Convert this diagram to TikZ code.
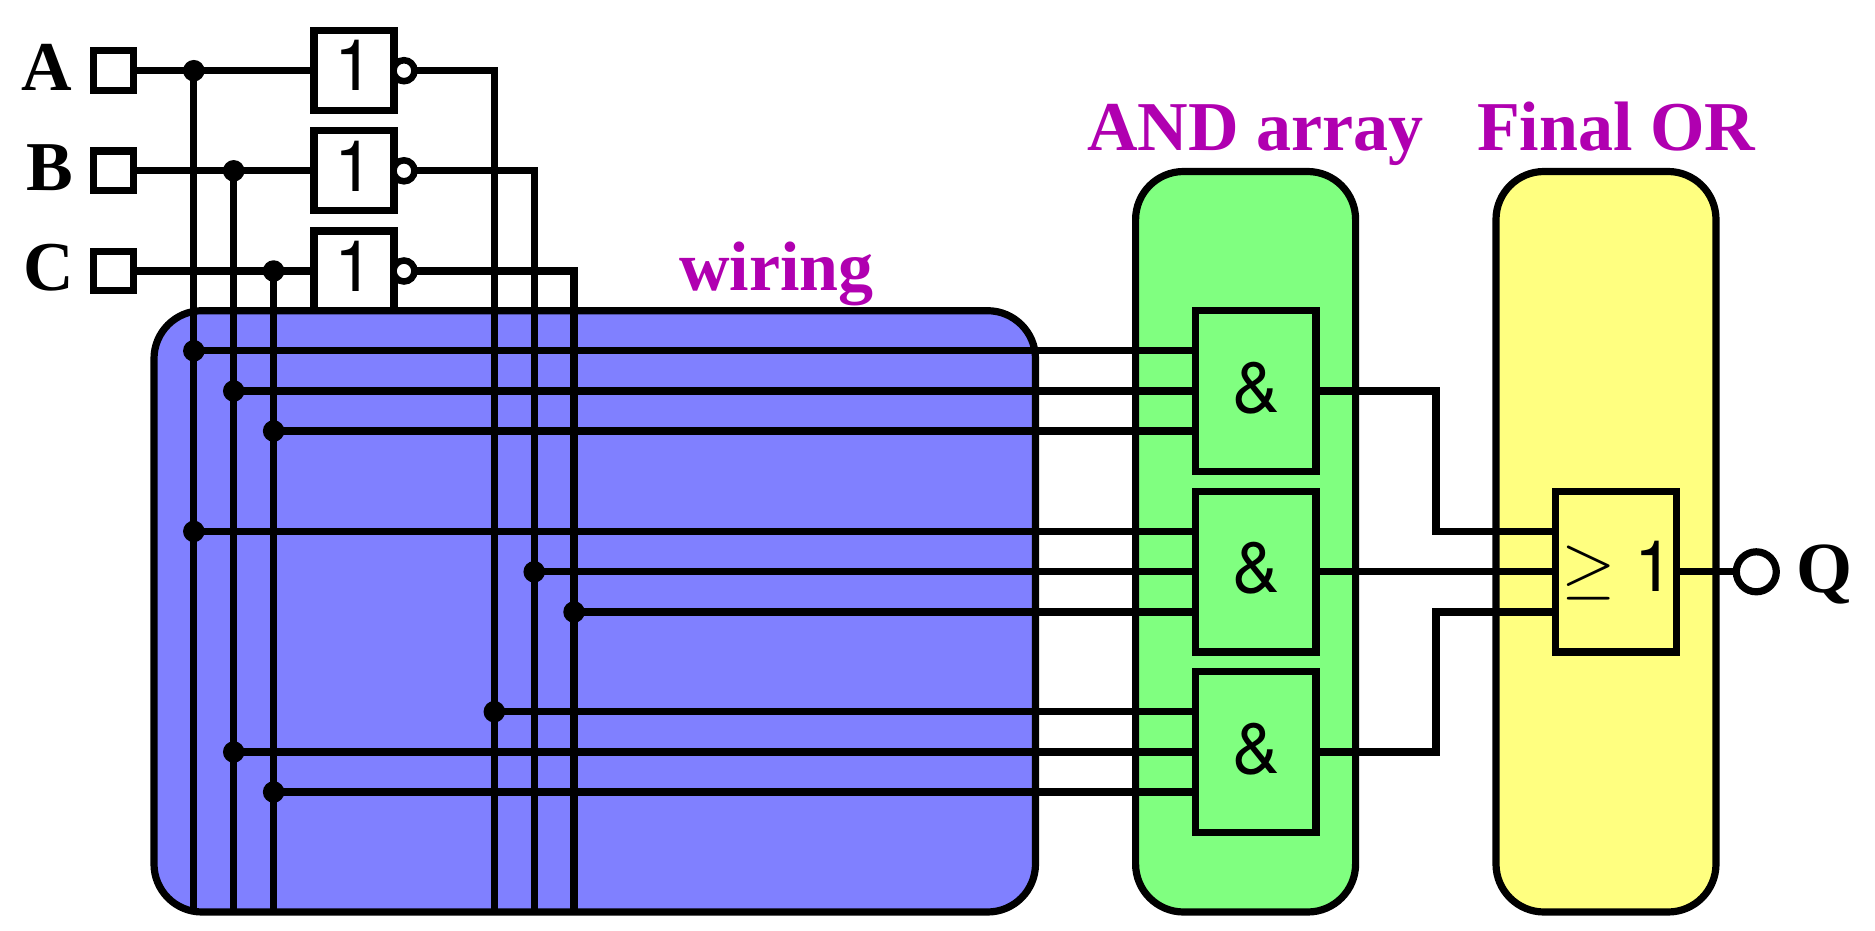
\documentclass[tikz,border=0pt]{standalone}
\usepackage{fontspec}
\setmainfont{Liberation Serif}
\newfontfamily\hvfont{TeX Gyre Heros}
\definecolor{wireblue}{HTML}{8080FF}
\definecolor{andgreen}{HTML}{80FF80}
\definecolor{oryellow}{HTML}{FFFF80}
\definecolor{labelmag}{HTML}{B000B0}
\tikzset{
  every node/.style={inner sep=0pt,outer sep=0pt},
  wirepath/.style={line width=7.2pt,line join=miter,line cap=butt},
  panel/.style={draw,line width=7.2pt,rectangle,rounded corners=48pt},
  gatebox/.style={draw,line width=7.2pt,rectangle,minimum width=120.5pt,minimum height=160.5pt},
  invbox/.style={draw,fill=white,line width=7.2pt,rectangle,minimum width=80pt,minimum height=80pt},
  pinbox/.style={draw,fill=white,line width=7.2pt,rectangle,minimum width=39.7pt,minimum height=39.7pt},
  bubble/.style={draw,fill=white,line width=6.5pt,circle,minimum size=21pt},
  outbubble/.style={draw,fill=white,line width=7.2pt,circle,minimum size=40pt},
  junction/.style={fill=black,circle,minimum size=21.5pt},
  pinlabel/.style={anchor=base east,font=\fontsize{70}{70}\selectfont\bfseries},
  blocklabel/.style={anchor=base west,text=labelmag,font=\fontsize{70}{70}\selectfont\bfseries},
  gatetext/.style={anchor=base,font=\hvfont\fontsize{71}{71}\selectfont},
}
\begin{document}
\begin{tikzpicture}[x=1pt,y=-1pt]
\useasboundingbox (0,0) rectangle (1875,931);
% inverters (behind the wiring panel)
\node[invbox] (g1) at (354,70.7) {};
\node[invbox] (g2) at (354,170.8) {};
\node[invbox] (g3) at (354,271) {};
% panels
\node[panel,fill=wireblue,minimum width=881.5pt,minimum height=601.3pt] (wiring) at (594.75,611.35) {};
\node[panel,fill=andgreen,minimum width=220pt,minimum height=740.5pt] (andp) at (1245.6,541.75) {};
\node[panel,fill=oryellow,minimum width=220pt,minimum height=740.5pt] (orp) at (1606,541.75) {};
% pins
\node[pinbox] (pa) at (113.6,70.7) {};
\node[pinbox] (pb) at (113.6,170.8) {};
\node[pinbox] (pc) at (113.6,271) {};
\node[bubble] (n1) at (404,70.7) {};
\node[bubble] (n2) at (404,170.8) {};
\node[bubble] (n3) at (404,271) {};
% bus junctions
\node[junction] (ja) at (193.8,70.7) {};
\node[junction] (jb) at (233.7,170.8) {};
\node[junction] (jc) at (273.6,271) {};
\node[junction] (a1) at (193.8,350.8) {};
\node[junction] (b1) at (233.7,391) {};
\node[junction] (c1) at (273.6,431) {};
\node[junction] (a2) at (193.8,531.4) {};
\node[junction] (nb2) at (534.2,571.8) {};
\node[junction] (nc2) at (574,612) {};
\node[junction] (na3) at (494.3,711.7) {};
\node[junction] (b3) at (233.7,752) {};
\node[junction] (c3) at (273.6,792) {};
% bottom ends of buses
\coordinate (ba) at (193.8,912);
\coordinate (bb) at (233.7,912);
\coordinate (bc) at (273.6,912);
\coordinate (bna) at (494.3,912);
\coordinate (bnb) at (534.2,912);
\coordinate (bnc) at (574,912);
% gates
\node[gatebox,fill=andgreen] (and1) at (1255.75,391) {};
\node[gatebox,fill=andgreen] (and2) at (1255.75,571.8) {};
\node[gatebox,fill=andgreen] (and3) at (1255.75,752) {};
\node[gatebox,fill=oryellow] (orgate) at (1616,571.8) {};
\node[outbubble] (qb) at (1756.3,571.8) {};
% riser and OR input points
\coordinate (r1) at (1436,391);
\coordinate (r1b) at (1436,531.4);
\coordinate (r3) at (1436,752);
\coordinate (r3b) at (1436,612);
% wires
\draw[wirepath] (pa.east) -- (g1.west);
\draw[wirepath] (pb.east) -- (g2.west);
\draw[wirepath] (pc.east) -- (g3.west);
\draw[wirepath] (ja.center) -- (ba);
\draw[wirepath] (jb.center) -- (bb);
\draw[wirepath] (jc.center) -- (bc);
\draw[wirepath] (n1.east) -- (bna |- n1.east) -- (bna);
\draw[wirepath] (n2.east) -- (bnb |- n2.east) -- (bnb);
\draw[wirepath] (n3.east) -- (bnc |- n3.east) -- (bnc);
\draw[wirepath] (a1.center) -- (a1 -| and1.west);
\draw[wirepath] (b1.center) -- (b1 -| and1.west);
\draw[wirepath] (c1.center) -- (c1 -| and1.west);
\draw[wirepath] (a2.center) -- (a2 -| and2.west);
\draw[wirepath] (nb2.center) -- (nb2 -| and2.west);
\draw[wirepath] (nc2.center) -- (nc2 -| and2.west);
\draw[wirepath] (na3.center) -- (na3 -| and3.west);
\draw[wirepath] (b3.center) -- (b3 -| and3.west);
\draw[wirepath] (c3.center) -- (c3 -| and3.west);
\draw[wirepath] (and1.east) -- (r1) -- (r1b) -- (r1b -| orgate.west);
\draw[wirepath] (and2.east) -- (orgate.west);
\draw[wirepath] (and3.east) -- (r3) -- (r3b) -- (r3b -| orgate.west);
\draw[wirepath] (orgate.east) -- (qb.west);
% labels
\node[pinlabel] (la) at (72.5,90.7) {A};
\node[pinlabel] (lb) at (73.5,190.3) {B};
\node[pinlabel] (lc) at (74.5,290) {C};
\node[anchor=base west,font=\fontsize{72}{72}\selectfont\bfseries] (lq) at (1796.5,592.5) {Q};
\node[blocklabel] (lw) at (679,290) {wiring};
\node[blocklabel] (ln) at (1087,150.8) {AND array};
\node[blocklabel] (lf) at (1477,150.8) {Final OR};
\node[gatetext] (t1) at (354,90.7) {1};
\node[gatetext] (t2) at (354,191) {1};
\node[gatetext] (t3) at (354,291) {1};
\node[gatetext] (t4) at (1256,412) {\&};
\node[gatetext] (t5) at (1256,592.8) {\&};
\node[gatetext] (t6) at (1256,773) {\&};
\node[gatetext] (t7) at (1654,591) {1};
\node[anchor=base west,scale=7] (t8) at (1561,590.5) {$\geq$};
\end{tikzpicture}
\end{document}
